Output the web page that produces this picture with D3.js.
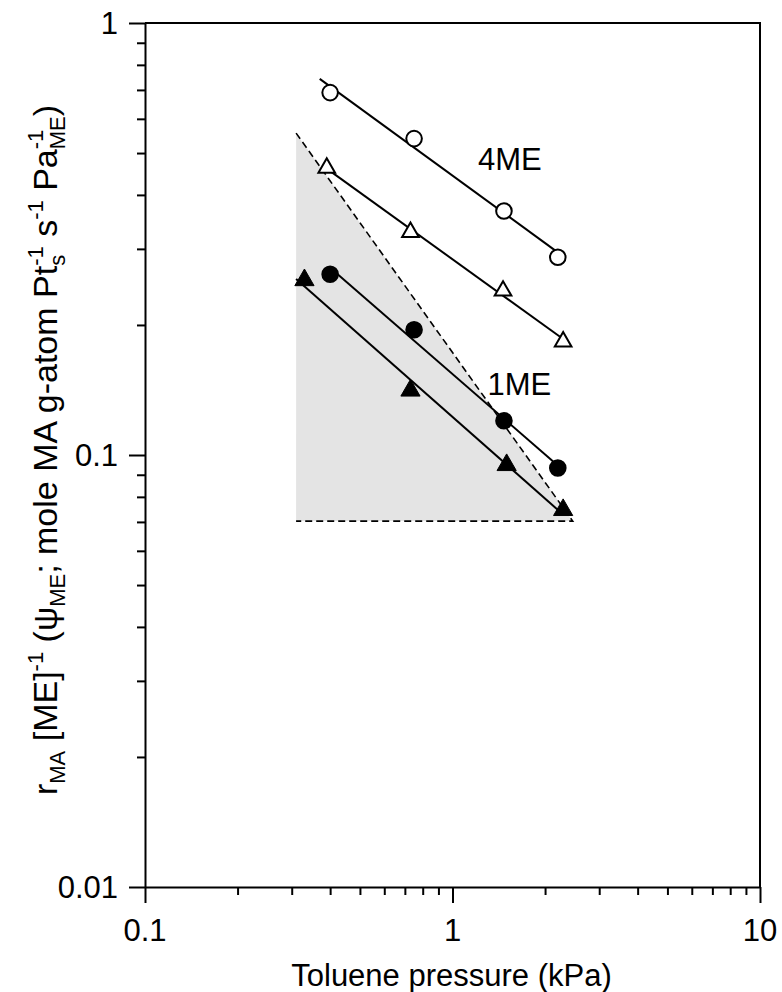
<!DOCTYPE html>
<html>
<head>
<meta charset="utf-8">
<script src="https://cdn.jsdelivr.net/npm/d3@7"></script>
<style>
  html, body { margin: 0; padding: 0; background: #fff; }
  svg { display: block; font-family: "Liberation Sans", Arial, sans-serif; }
</style>
</head>
<body>
<svg id="chart" width="782" height="992"></svg>
<script>
// ---------------- data ----------------
const openCircleX   = [0.40, 0.75, 1.47, 2.20];
const openCircleY   = [0.690, 0.540, 0.367, 0.287];
const openTriX      = [0.39, 0.73, 1.46, 2.29];
const openTriY      = [0.462, 0.328, 0.240, 0.183];
const filledCircleX = [0.40, 0.75, 1.47, 2.20];
const filledCircleY = [0.262, 0.195, 0.120, 0.0933];
const filledTriX    = [0.33, 0.73, 1.50, 2.29];
const filledTriY    = [0.254, 0.141, 0.0948, 0.0746];

// extent (x) over which each fitted line is drawn
const lineRanges = {
  openCircle:   [0.37, 2.20],
  openTri:      [0.39, 2.29],
  filledCircle: [0.40, 2.20],
  filledTri:    [0.31, 2.29]
};

// shaded region (triangle) corners
const shadeX = [0.31, 2.46, 0.31];
const shadeY = [0.556, 0.0703, 0.0703];

const xTickLabels = ["0.1", "1", "10"];
const yTickLabels = ["0.01", "0.1", "1"];

const annotations = [
  { text: "4ME", x: 1.21, y: 0.457 },
  { text: "1ME", x: 1.30, y: 0.1377 }
];

// ---------------- layout ----------------
const svg = d3.select("#chart");
const L = 145, R = 760, T = 23, B = 887;
const FS = 31;
const x = d3.scaleLog().domain([0.1, 10]).range([L, R]);
const y = d3.scaleLog().domain([0.01, 1]).range([B, T]);

// shaded triangle
svg.append("path")
  .attr("d", d3.line()(shadeX.map((v, i) => [x(v), y(shadeY[i])])) + "Z")
  .attr("fill", "#e4e4e4");

// dashed lines (hypotenuse + bottom)
svg.append("path")
  .attr("d", d3.line()([[x(shadeX[0]), y(shadeY[0])], [x(shadeX[1]), y(shadeY[1])], [x(shadeX[2]), y(shadeY[2])]]))
  .attr("fill", "none").attr("stroke", "#000").attr("stroke-width", 1.6)
  .attr("stroke-dasharray", "7,4");

// axes
const minorTicks = [];
for (let d = 0.1; d < 10; d *= 10) for (let k = 1; k <= 9; k++) minorTicks.push(+(k * d).toPrecision(3));
minorTicks.push(10);
const yMinor = [];
for (let d = 0.01; d < 1; d *= 10) for (let k = 1; k <= 9; k++) yMinor.push(+(k * d).toPrecision(3));
yMinor.push(1);

const xAxis = d3.axisBottom(x).tickValues(minorTicks).tickFormat("").tickSizeOuter(0);
const gx = svg.append("g").attr("transform", `translate(0,${B})`).call(xAxis);
gx.selectAll(".tick line").attr("y2", d => (xTickLabels.includes(String(d)) ? 16 : 8));
const yAxis = d3.axisLeft(y).tickValues(yMinor).tickFormat("").tickSizeOuter(0);
const gy = svg.append("g").attr("transform", `translate(${L},0)`).call(yAxis);
gy.selectAll(".tick line").attr("x2", d => (yTickLabels.includes(String(d)) ? -16 : -8));
[gx, gy].forEach(g => {
  g.selectAll("path.domain").attr("stroke", "#000").attr("stroke-width", 2);
  g.selectAll(".tick line").attr("stroke", "#000").attr("stroke-width", 2);
});

// frame (top, right)
svg.append("path")
  .attr("d", `M${L},${T}H${R}V${B}`)
  .attr("fill", "none").attr("stroke", "#000").attr("stroke-width", 2);

// tick labels
svg.append("g").selectAll("text").data(xTickLabels).join("text")
  .attr("x", d => x(+d)).attr("y", B + 54)
  .attr("text-anchor", "middle").attr("font-size", FS).text(d => d);
svg.append("g").selectAll("text").data(yTickLabels).join("text")
  .attr("x", 118).attr("y", d => y(+d) + 11)
  .attr("text-anchor", "end").attr("font-size", FS).text(d => d);

// x title
svg.append("text").attr("x", (L + R) / 2 - 1).attr("y", 986)
  .attr("text-anchor", "middle").attr("font-size", FS).text("Toluene pressure (kPa)");

// y title with sub/superscripts
const yt = svg.append("text")
  .attr("transform", `translate(57,${450}) rotate(-90)`)
  .attr("text-anchor", "middle").attr("font-size", 34);
const parts = [
  ["r"], ["MA", "sub"], [" [ME]"], ["-1", "sup"], [" (\u03C8"], ["ME", "sub"],
  ["; mole MA g-atom Pt"], ["-1", "sup"], ["s", "sub2"], [" s"], ["-1", "sup"],
  [" Pa"], ["-1", "sup"], ["ME", "sub2"], [")"]
];
const spans = [];
parts.forEach(([t, kind]) => {
  const s = yt.append("tspan").text(t);
  if (kind) s.attr("font-size", 22);
  spans.push({ s, kind });
});
let cur = 0;
spans.forEach((o, i) => {
  let target = 0;
  if (o.kind === "sub" || o.kind === "sub2") target = 8;
  if (o.kind === "sup") target = -14;
  o.s.attr("dy", target - cur);
  cur = target;
  if (o.kind === "sub2") {
    const prevW = spans[i - 1].s.node().getComputedTextLength();
    o.s.attr("dx", -prevW);
    o.back = prevW;
  }
});
spans.forEach((o, i) => {
  if (o.kind === "sub2" && i + 1 < spans.length) {
    const w = o.s.node().getComputedTextLength();
    const extra = Math.max(0, o.back - w);
    spans[i + 1].s.attr("dx", extra);
  }
});

// fitted lines (least squares in log-log space)
function fit(xs, ys) {
  const lx = xs.map(Math.log10), ly = ys.map(Math.log10);
  const mx = d3.mean(lx), my = d3.mean(ly);
  const sxy = d3.sum(lx.map((v, i) => (v - mx) * (ly[i] - my)));
  const sxx = d3.sum(lx.map(v => (v - mx) ** 2));
  const b = sxy / sxx, a = my - b * mx;
  return v => Math.pow(10, a + b * Math.log10(v));
}
const series = [
  { key: "openCircle", xs: openCircleX, ys: openCircleY, shape: "circle", fill: "#fff" },
  { key: "openTri", xs: openTriX, ys: openTriY, shape: "tri", fill: "#fff" },
  { key: "filledCircle", xs: filledCircleX, ys: filledCircleY, shape: "circle", fill: "#000" },
  { key: "filledTri", xs: filledTriX, ys: filledTriY, shape: "tri", fill: "#000" }
];
series.forEach(s => {
  const f = fit(s.xs, s.ys);
  const [a, b] = lineRanges[s.key];
  svg.append("path")
    .attr("d", d3.line()([[x(a), y(f(a))], [x(b), y(f(b))]]))
    .attr("stroke", "#000").attr("stroke-width", 2).attr("fill", "none");
});
series.forEach(s => {
  const pts = s.xs.map((v, i) => [x(v), y(s.ys[i])]);
  if (s.shape === "circle") {
    svg.append("g").selectAll("circle").data(pts).join("circle")
      .attr("cx", d => d[0]).attr("cy", d => d[1]).attr("r", 7.8)
      .attr("fill", s.fill).attr("stroke", "#000").attr("stroke-width", 2);
  } else {
    const sym = d3.symbol().type(d3.symbolTriangle).size(s.fill === "#000" ? 160 : 120);
    svg.append("g").selectAll("path").data(pts).join("path")
      .attr("transform", d => `translate(${d[0]},${d[1]})`)
      .attr("d", sym())
      .attr("fill", s.fill).attr("stroke", "#000").attr("stroke-width", s.fill === "#000" ? 1 : 2)
      .attr("stroke-linejoin", "miter");
  }
});

// annotations
svg.append("g").selectAll("text").data(annotations).join("text")
  .attr("x", d => x(d.x)).attr("y", d => y(d.y))
  .attr("font-size", FS).text(d => d.text);
</script>
</body>
</html>
